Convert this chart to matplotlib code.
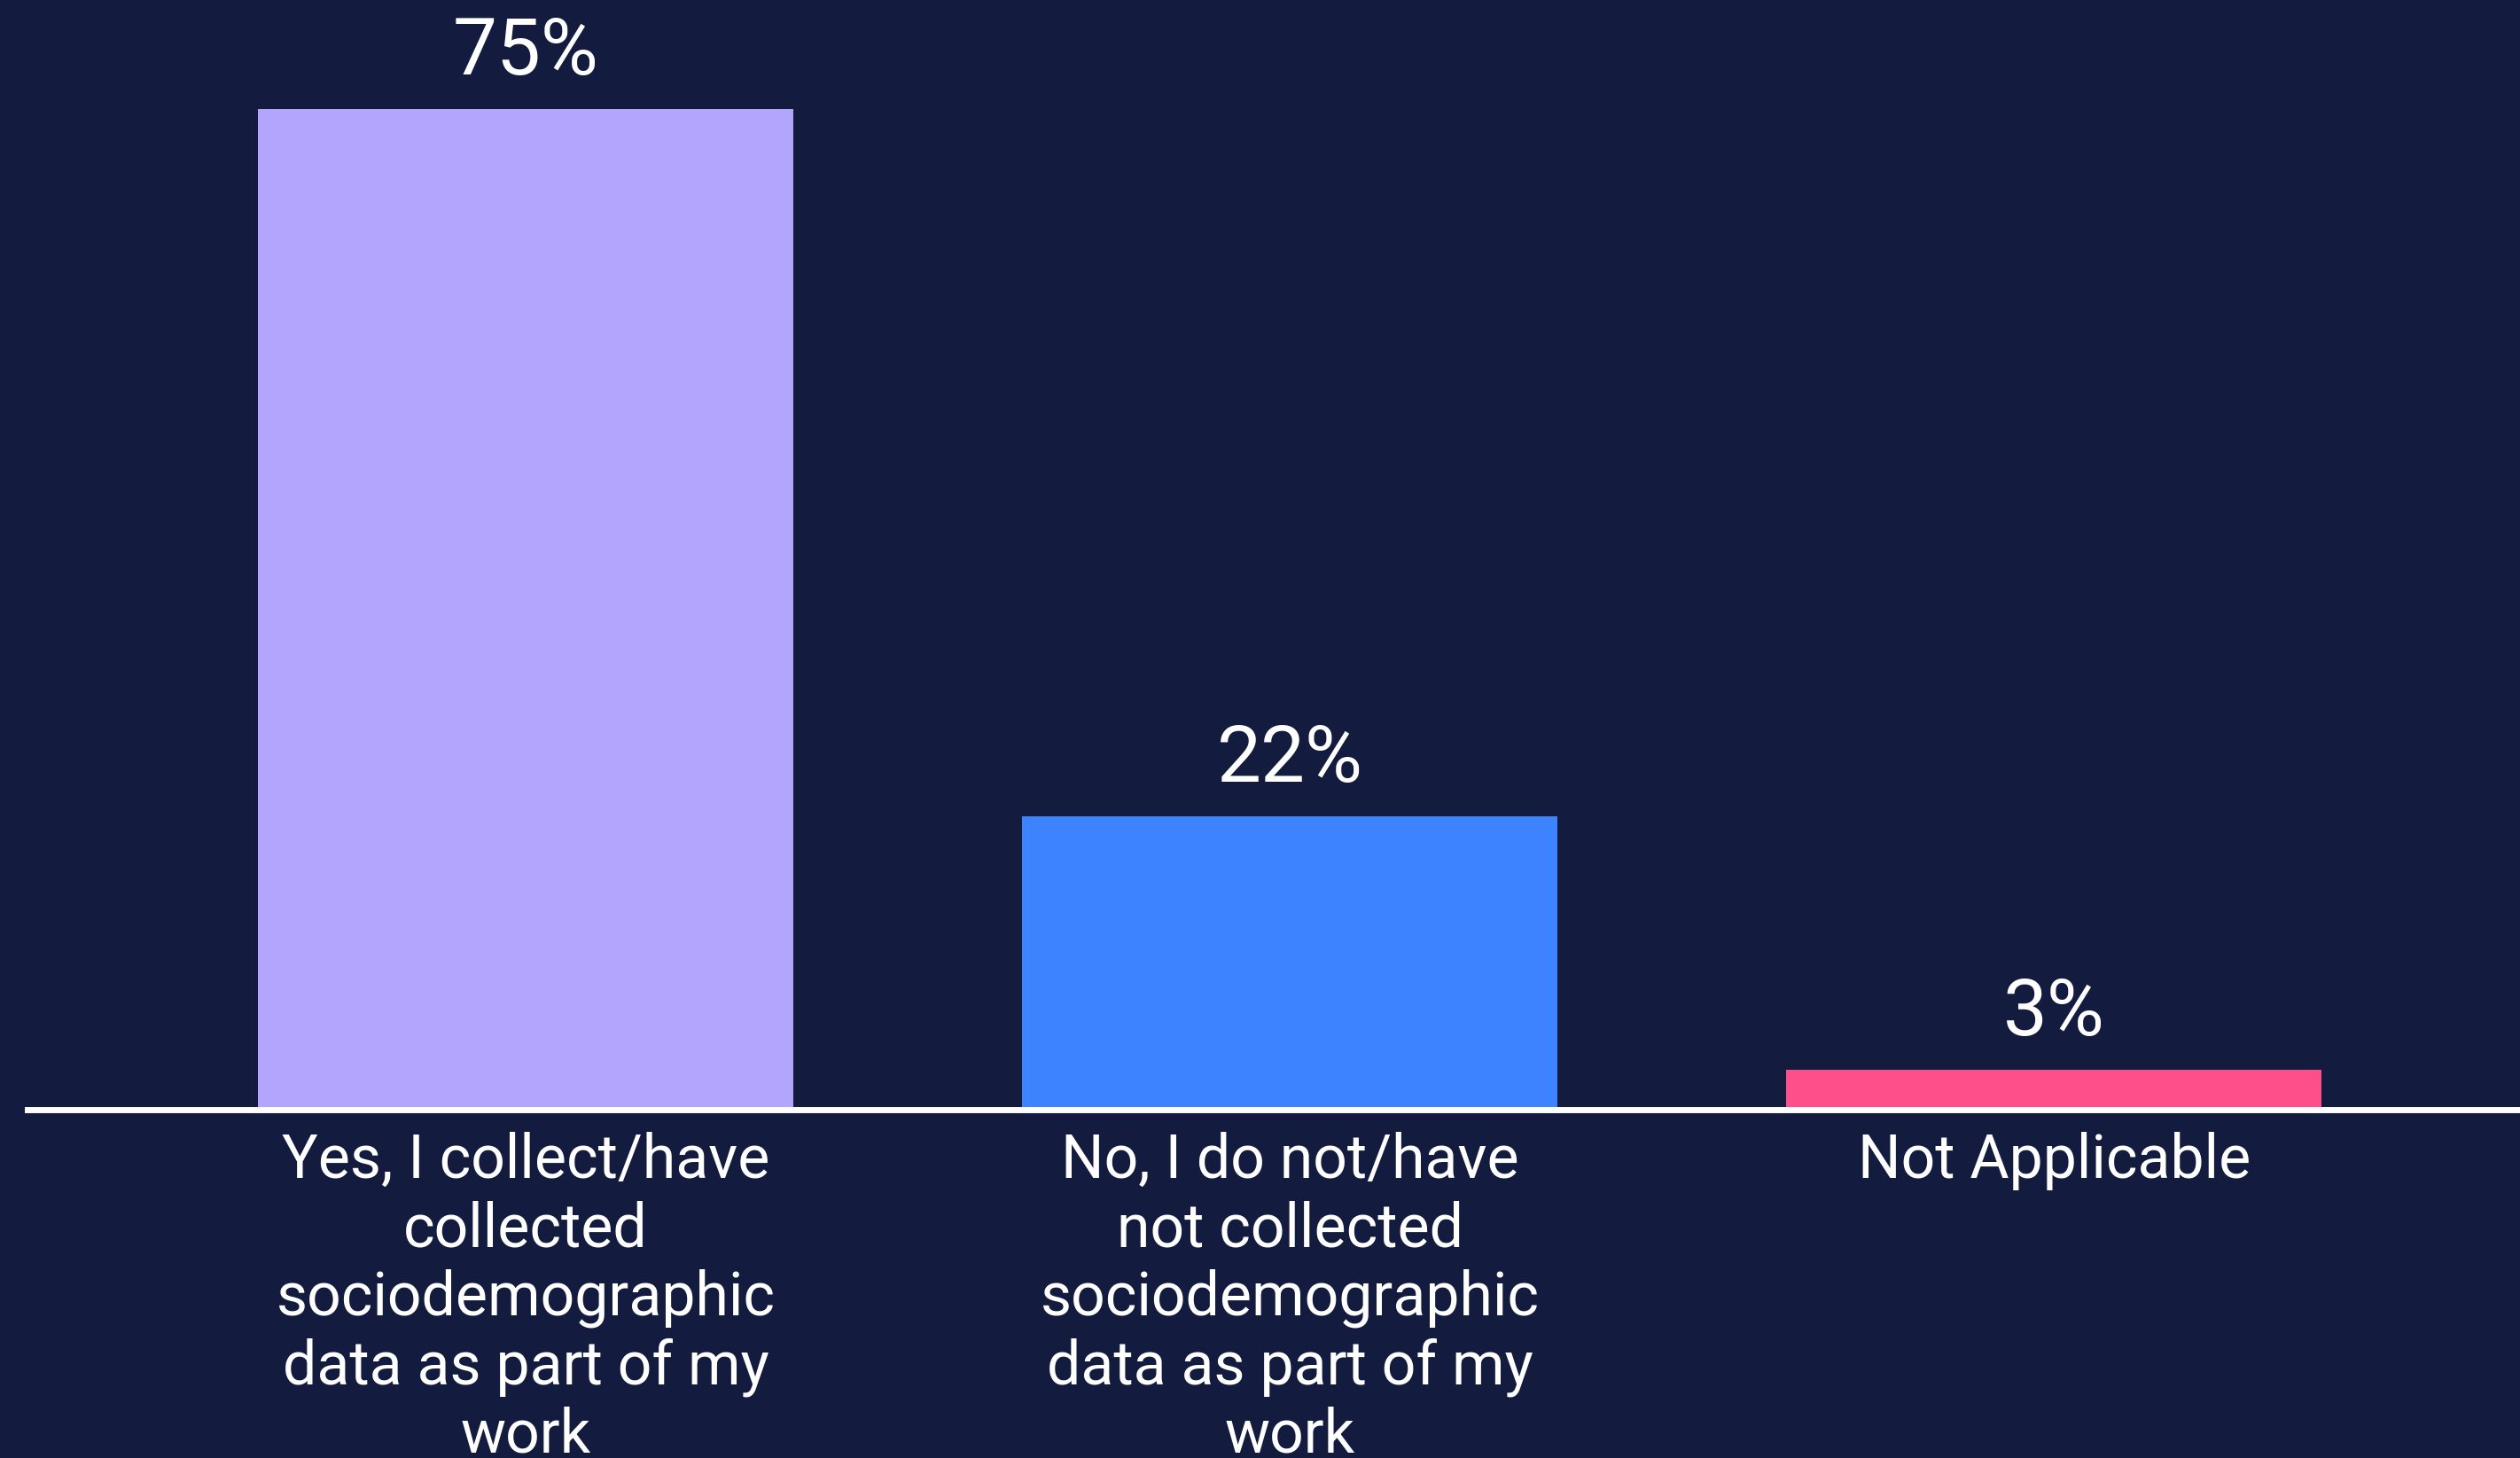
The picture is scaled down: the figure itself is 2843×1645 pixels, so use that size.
import matplotlib
matplotlib.use("Agg")
import matplotlib.pyplot as plt

categories = [
    "Yes, I collect/have\ncollected\nsociodemographic\ndata as part of my\nwork",
    "No, I do not/have\nnot collected\nsociodemographic\ndata as part of my\nwork",
    "Not Applicable",
]
values = [75, 22, 3]
value_labels = ["75%", "22%", "3%"]

bg = "#131B3E"
colors = ["#B3A5FD", "#3D82FF", "#FF4F8B"]

plt.rcParams['font.family'] = ['Roboto', 'DejaVu Sans']

W, H, dpi = 2843, 1645, 100
fig = plt.figure(figsize=(W / dpi, H / dpi), dpi=dpi, facecolor=bg)

left_px = 31
base_px = 1252
ax = fig.add_axes([left_px / W, 1 - base_px / H, 1 - left_px / W, base_px / H])
ax.set_facecolor(bg)

x = list(range(len(values)))
bars = ax.bar(x, values, width=0.70, color=colors, zorder=2)
ax.set_xlim(-0.652, 2.61)
ax.set_ylim(0, 83.15)

ax.axhline(0, color="white", lw=5, zorder=3, clip_on=False)

for b, lab in zip(bars, value_labels):
    ax.annotate(lab, (b.get_x() + b.get_width() / 2, b.get_height()),
                xytext=(0, 15), textcoords="offset points",
                ha="center", va="bottom", color="white", fontsize=64)

ax.set_xticks(x)
ax.set_xticklabels(categories, color="white", fontsize=49, linespacing=1.215)
ax.tick_params(axis="x", length=0, pad=18)
ax.set_yticks([])
for s in ax.spines.values():
    s.set_visible(False)

fig.savefig("out.png", dpi=dpi, facecolor=bg)
